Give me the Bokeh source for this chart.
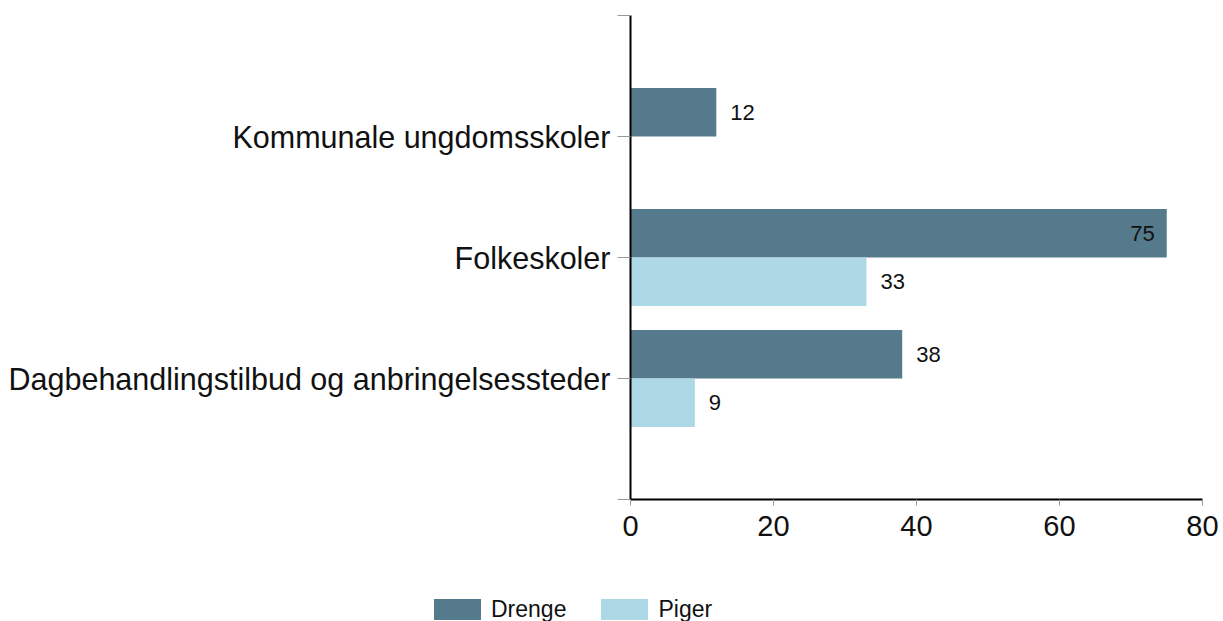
from bokeh.plotting import figure
from bokeh.models import Range1d, FixedTicker, ColumnDataSource, Div
from bokeh.layouts import column
from bokeh.embed import file_html
from bokeh.resources import INLINE
from bokeh.core.properties import value

# ---- data (bottom to top) ----
categories = ["Dagbehandlingstilbud og anbringelsessteder", "Folkeskoler", "Kommunale ungdomsskoler"]
drenge = [38, 75, 12]
piger = [9, 33, None]
series_names = ["Drenge", "Piger"]
series_colors = ["#547A8C", "#ADD8E6"]
x_ticks = [0, 20, 40, 60, 80]

FONT = "Liberation Sans"
BAR_H = 0.4

pos = list(range(1, len(categories) + 1))

p = figure(width=1223, height=575, output_backend="svg", toolbar_location=None,
           x_range=Range1d(0, 80), y_range=Range1d(0, len(categories) + 1),
           min_border_left=630, min_border_right=21, min_border_top=15,
           min_border_bottom=76, frame_width=572, frame_height=484)
p.outline_line_color = None
p.xgrid.visible = False
p.ygrid.visible = False
p.background_fill_color = "white"
p.border_fill_color = "white"

all_pts = []
for vals, color, off in zip([drenge, piger], series_colors, [BAR_H / 2, -BAR_H / 2]):
    ys, xs = [], []
    for yp, v in zip(pos, vals):
        if v is None:
            continue
        ys.append(yp + off)
        xs.append(v)
        all_pts.append((v, yp + off))
    src = ColumnDataSource(dict(y=ys, right=xs))
    p.hbar(y="y", right="right", left=0, height=BAR_H, source=src,
           fill_color=color, line_color=None)

# value labels
limit = 70
out_pts = [(v, y) for v, y in all_pts if v <= limit]
in_pts = [(v, y) for v, y in all_pts if v > limit]
if out_pts:
    p.text(x=[a for a, b in out_pts], y=[b for a, b in out_pts], text=[str(a) for a, b in out_pts],
           x_offset=14, text_align="left", text_baseline="middle",
           text_font=value(FONT), text_font_size="22px", text_color="#111111")
if in_pts:
    p.text(x=[a for a, b in in_pts], y=[b for a, b in in_pts], text=[str(a) for a, b in in_pts],
           x_offset=-12, text_align="right", text_baseline="middle",
           text_font=value(FONT), text_font_size="22px", text_color="#111111")

# x axis
xa = p.xaxis[0]
xa.ticker = FixedTicker(ticks=x_ticks)
xa.axis_line_color = "black"
xa.axis_line_width = 2
xa.major_tick_line_color = "#999999"
xa.major_tick_out = 6
xa.major_tick_in = 0
xa.minor_tick_line_color = None
xa.major_label_text_font = FONT
xa.major_label_text_font_size = "29px"
xa.major_label_text_color = "#111111"
xa.major_label_standoff = 10

# y axis
ya = p.yaxis[0]
ya.ticker = FixedTicker(ticks=list(range(0, len(categories) + 2)))
overrides = {0: "", len(categories) + 1: ""}
for yp, c in zip(pos, categories):
    overrides[yp] = c
ya.major_label_overrides = overrides
ya.axis_line_color = "black"
ya.axis_line_width = 2
ya.major_tick_line_color = "#999999"
ya.major_tick_out = 13
ya.major_tick_in = 0
ya.minor_tick_line_color = None
ya.major_label_text_font = FONT
ya.major_label_text_font_size = "30.5px"
ya.major_label_text_color = "#111111"
ya.major_label_standoff = 7

# legend strip below the chart (HTML, real text)
items_html = "".join(
    f'<span style="display:inline-block;width:47px;height:21px;background:{c};'
    f'margin-right:10px;vertical-align:top;"></span>'
    f'<span style="display:inline-block;height:21px;line-height:21px;margin-right:35px;'
    f'vertical-align:top;">{n}</span>'
    for n, c in zip(series_names, series_colors))
legend_html = (f'<div style="position:relative;width:1223px;height:46px;">'
               f'<div style="position:absolute;left:434px;top:24px;white-space:nowrap;'
               f"font-family:'{FONT}';font-size:23px;color:#111111;line-height:21px;\">"
               f'{items_html}</div></div>')
lg = Div(text=legend_html, width=1223, height=46, margin=0)

layout = column(p, lg, spacing=0)
open("out.html", "w").write(file_html(layout, INLINE))
